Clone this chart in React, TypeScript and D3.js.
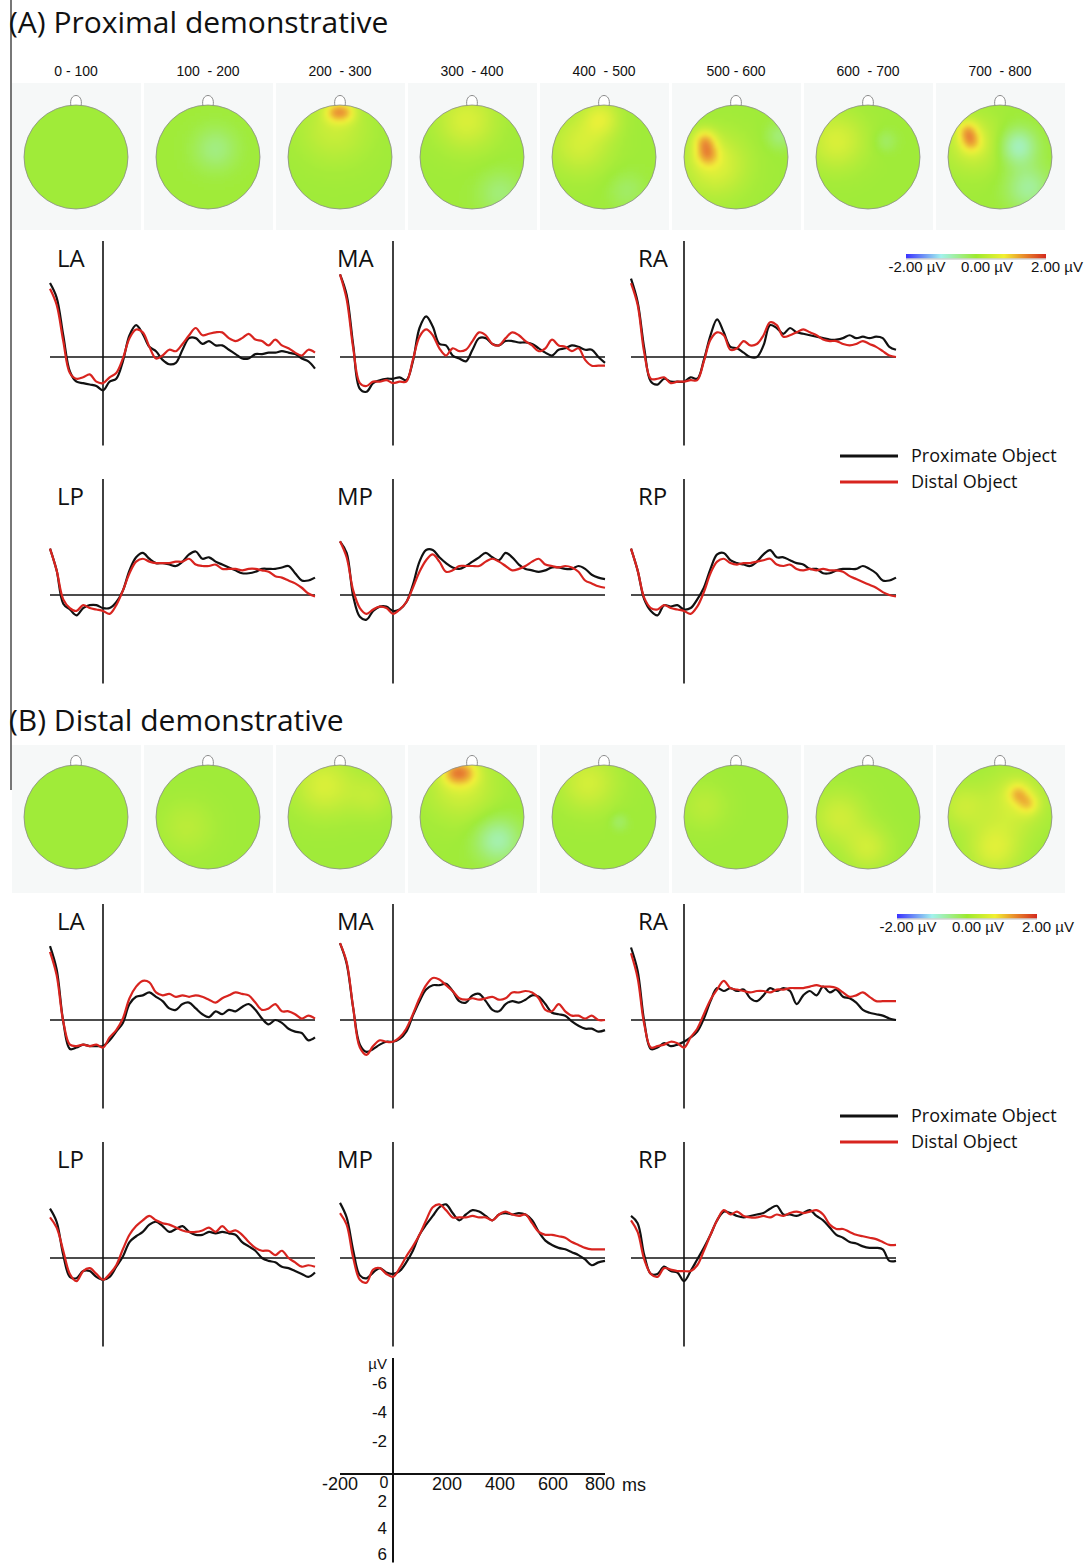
import React, { useEffect, useRef } from 'react';
import * as d3 from 'd3';

// sample times (ms) shared by every waveform
const times = d3.range(-200, 801, 25);

const windowLabels = ['0 - 100', '100  - 200', '200  - 300', '300  - 400', '400  - 500', '500 - 600', '600  - 700', '700  - 800'];
const channels = ['LA', 'MA', 'RA', 'LP', 'MP', 'RP'];
const xTicks = [200, 400, 600, 800];
const yTicks = [-6, -4, -2, 2, 4, 6];
const barTicks = [-2, 0, 2];

// (A) Proximal demonstrative, µV (negative plotted up)
const A_LA_prox = [-5.1, -4.1, -1.5, 1.0, 1.7, 1.8, 1.9, 2.0, 2.3, 1.7, 1.5, 0.3, -1.5, -2.2, -1.6, -0.7, -0.4, 0.2, 0.5, 0.4, -0.5, -1.3, -1.3, -0.9, -1.1, -0.8, -0.8, -0.5, -0.2, 0.1, 0.1, -0.2, -0.2, -0.3, -0.3, -0.4, -0.3, -0.2, 0.1, 0.3, 0.8];
const A_LA_dist = [-4.7, -3.6, -1.1, 1.1, 1.5, 1.4, 1.2, 1.7, 1.8, 1.4, 1.1, 0.1, -1.3, -1.9, -1.7, -0.7, 0.1, -0.1, -0.5, -0.4, -0.9, -1.5, -2.0, -1.5, -1.6, -1.7, -1.7, -1.3, -1.1, -1.3, -1.6, -1.2, -1.1, -0.8, -1.2, -0.8, -0.6, -0.3, -0.1, -0.5, -0.3];
const A_MA_prox = [-5.7, -4.3, -0.8, 2.2, 2.4, 1.8, 1.6, 1.5, 1.5, 1.4, 1.6, 0.3, -2.0, -2.8, -2.1, -0.9, -0.8, -0.1, 0.1, 0.3, -0.5, -1.3, -1.3, -0.9, -0.8, -1.1, -1.1, -1.0, -1.0, -0.9, -0.6, -0.3, -0.1, -0.5, -0.6, -0.8, -0.7, -0.5, -0.5, 0.0, 0.4];
const A_MA_dist = [-5.7, -4.0, -0.6, 1.8, 2.0, 1.7, 1.7, 1.6, 1.8, 1.7, 1.7, 0.2, -1.4, -1.9, -1.5, -0.6, -0.1, -0.6, -0.4, -0.5, -1.1, -1.7, -1.5, -0.9, -0.8, -1.3, -1.7, -1.5, -1.1, -0.8, -0.4, -0.6, -1.2, -0.8, -0.7, -0.4, -0.6, 0.2, 0.6, 0.6, 0.6];
const A_RA_prox = [-5.4, -3.8, -0.6, 1.7, 1.9, 1.5, 1.7, 1.7, 1.7, 1.4, 1.5, 0.2, -1.5, -2.6, -1.7, -0.7, -0.6, -0.3, 0.0, 0.0, -0.8, -2.2, -2.0, -1.6, -2.0, -1.7, -1.6, -1.5, -1.4, -1.3, -1.2, -1.2, -1.3, -1.5, -1.3, -1.4, -1.3, -1.4, -1.3, -0.7, -0.5];
const A_RA_dist = [-5.1, -3.6, -0.3, 1.5, 1.5, 1.4, 1.8, 1.7, 1.7, 1.6, 1.6, 0.3, -1.2, -1.7, -1.5, -0.5, -0.6, -1.1, -0.8, -0.9, -1.5, -2.4, -2.2, -1.4, -1.5, -1.7, -1.9, -1.7, -1.5, -1.2, -1.1, -1.1, -0.9, -0.8, -0.9, -1.1, -0.9, -0.7, -0.4, -0.1, 0.0];
const A_LP_prox = [-3.2, -1.7, 0.6, 1.0, 1.4, 0.9, 0.7, 0.7, 0.9, 0.9, 0.5, -0.3, -1.7, -2.6, -2.9, -2.5, -2.2, -2.2, -2.1, -2.0, -2.3, -2.8, -3.0, -2.5, -2.6, -2.3, -2.1, -1.9, -1.7, -1.5, -1.5, -1.6, -1.8, -1.8, -1.8, -1.9, -2.0, -1.5, -1.0, -1.0, -1.2];
const A_LP_dist = [-3.2, -1.7, 0.3, 0.9, 1.1, 0.7, 0.9, 1.0, 1.1, 1.3, 0.7, -0.3, -1.5, -2.3, -2.5, -2.3, -2.2, -2.2, -2.2, -2.3, -2.3, -2.5, -2.1, -2.0, -2.0, -2.1, -1.8, -1.8, -1.8, -1.7, -1.8, -1.8, -1.7, -1.6, -1.3, -1.2, -1.0, -0.8, -0.5, -0.1, 0.1];
const A_MP_prox = [-3.7, -2.9, 0.1, 1.5, 1.7, 1.1, 0.8, 0.8, 1.1, 1.0, 0.5, -0.7, -2.3, -3.1, -3.1, -2.6, -2.2, -1.9, -1.8, -2.0, -2.3, -2.6, -2.9, -2.6, -2.4, -2.9, -2.6, -2.1, -1.8, -1.7, -1.6, -1.7, -1.9, -1.9, -1.8, -1.8, -2.0, -1.8, -1.4, -1.2, -1.1];
const A_MP_dist = [-3.7, -2.6, -0.3, 0.9, 1.3, 1.0, 0.8, 0.9, 1.3, 1.0, 0.5, -0.5, -1.6, -2.4, -2.8, -2.3, -1.6, -1.7, -2.0, -2.0, -2.0, -2.0, -2.3, -2.5, -2.3, -2.0, -1.7, -1.8, -2.0, -2.3, -2.5, -2.1, -2.0, -1.9, -2.0, -1.9, -1.6, -1.0, -0.8, -0.6, -0.5];
const A_RP_prox = [-3.2, -1.7, 0.3, 1.1, 1.4, 0.7, 0.8, 0.7, 1.0, 0.9, 0.3, -0.5, -1.8, -2.8, -2.9, -2.4, -2.2, -2.1, -2.0, -2.3, -2.8, -3.1, -2.6, -2.6, -2.4, -2.2, -2.1, -1.8, -1.8, -1.5, -1.5, -1.7, -1.8, -1.8, -1.8, -2.0, -1.8, -1.5, -1.0, -1.0, -1.2];
const A_RP_dist = [-3.2, -1.7, 0.2, 0.9, 1.0, 0.7, 0.9, 1.0, 1.1, 1.3, 0.8, -0.2, -1.5, -2.3, -2.5, -2.2, -2.1, -2.2, -2.2, -2.3, -2.4, -2.5, -2.1, -2.0, -2.1, -1.8, -1.7, -1.8, -1.7, -1.8, -1.7, -1.7, -1.6, -1.3, -1.1, -0.9, -0.7, -0.5, -0.2, 0.0, 0.1];

// (B) Distal demonstrative
const B_LA_prox = [-5.1, -3.5, 0.1, 2.0, 1.9, 1.7, 1.8, 1.8, 1.8, 1.4, 0.8, 0.2, -1.1, -1.6, -1.7, -1.9, -1.6, -1.3, -0.8, -0.7, -1.1, -1.2, -0.8, -0.4, -0.2, -0.6, -0.4, -0.7, -0.6, -0.9, -1.1, -0.7, -0.1, 0.3, 0.0, 0.2, 0.6, 0.8, 0.9, 1.4, 1.2];
const B_LA_dist = [-4.7, -3.1, 0.1, 1.7, 1.8, 1.7, 1.8, 1.7, 1.9, 1.2, 0.7, -0.1, -1.5, -2.3, -2.7, -2.6, -1.9, -1.7, -1.8, -1.6, -1.7, -1.6, -1.7, -1.6, -1.4, -1.2, -1.5, -1.7, -1.9, -1.8, -1.7, -1.2, -0.7, -0.8, -1.1, -0.6, -0.6, -0.4, -0.1, -0.3, -0.1];
const B_MA_prox = [-5.3, -3.9, -0.8, 1.7, 2.2, 2.0, 1.7, 1.5, 1.5, 1.3, 0.8, -0.3, -1.3, -2.1, -2.4, -2.4, -2.5, -2.0, -1.3, -1.2, -1.7, -1.8, -1.3, -0.7, -0.6, -1.1, -1.3, -1.2, -1.4, -1.7, -1.6, -1.1, -0.5, -0.4, -0.3, 0.1, 0.4, 0.6, 0.6, 0.8, 0.7];
const B_MA_dist = [-5.3, -4.0, -0.8, 1.9, 2.4, 1.8, 1.4, 1.5, 1.5, 1.2, 0.6, -0.4, -1.5, -2.4, -2.9, -2.8, -2.4, -2.0, -1.5, -1.4, -1.5, -1.4, -1.5, -1.6, -1.4, -1.5, -1.9, -1.9, -2.0, -1.9, -1.5, -0.7, -0.6, -1.1, -0.6, -0.3, -0.3, -0.1, -0.3, 0.0, 0.0];
const B_RA_prox = [-5.0, -3.4, 0.1, 2.0, 1.9, 1.6, 1.8, 1.7, 1.5, 1.2, 0.8, -0.1, -1.3, -2.2, -2.0, -2.2, -2.0, -2.1, -1.5, -1.3, -1.7, -2.2, -2.0, -2.2, -2.0, -1.1, -1.7, -2.0, -1.7, -2.3, -1.9, -2.1, -1.6, -1.5, -1.2, -0.7, -0.5, -0.4, -0.3, -0.1, 0.0];
const B_RA_dist = [-4.6, -2.9, 0.3, 1.9, 1.8, 1.7, 1.5, 1.6, 1.9, 1.2, 0.6, -0.4, -1.4, -2.1, -2.7, -2.2, -2.1, -2.0, -1.9, -2.0, -2.0, -1.9, -2.1, -2.1, -2.2, -2.2, -2.2, -2.3, -2.4, -2.3, -2.3, -2.2, -1.9, -1.6, -1.7, -1.9, -1.6, -1.3, -1.3, -1.3, -1.3];
const B_LP_prox = [-3.4, -2.5, -0.2, 1.3, 1.4, 0.9, 0.9, 1.3, 1.5, 1.3, 0.6, -0.1, -1.1, -1.5, -1.8, -2.3, -2.5, -2.2, -1.8, -2.0, -2.2, -1.8, -1.6, -1.6, -1.8, -1.7, -1.8, -1.7, -1.6, -1.1, -0.8, -0.5, 0.0, 0.2, 0.3, 0.6, 0.7, 0.9, 1.1, 1.3, 1.0];
const B_LP_dist = [-2.8, -2.1, -0.5, 1.1, 1.6, 0.9, 0.7, 1.1, 1.5, 1.1, 0.5, -0.6, -1.6, -2.2, -2.6, -2.9, -2.6, -2.4, -2.3, -2.1, -1.9, -1.8, -1.8, -1.9, -2.1, -1.8, -2.2, -1.8, -1.9, -1.6, -1.1, -0.7, -0.5, -0.5, -0.2, -0.5, 0.0, 0.3, 0.6, 0.5, 0.6];
const B_MP_prox = [-3.8, -2.8, -0.5, 1.2, 1.4, 1.0, 0.7, 1.0, 1.1, 0.9, 0.3, -0.5, -1.6, -2.3, -2.9, -3.5, -3.7, -3.1, -2.6, -3.0, -3.3, -3.2, -2.9, -2.6, -3.0, -3.1, -3.0, -3.1, -3.0, -2.6, -1.8, -1.2, -0.9, -0.7, -0.6, -0.4, -0.2, 0.1, 0.5, 0.3, 0.2];
const B_MP_dist = [-3.1, -2.3, 0.0, 1.5, 1.7, 0.8, 0.7, 1.1, 1.3, 0.7, -0.1, -0.8, -1.6, -2.6, -3.5, -3.7, -3.3, -2.8, -2.8, -2.8, -2.9, -2.8, -2.8, -2.6, -3.0, -3.2, -3.0, -2.9, -3.0, -2.4, -1.8, -1.6, -1.6, -1.5, -1.4, -1.1, -0.9, -0.7, -0.6, -0.6, -0.6];
const B_RP_prox = [-2.9, -2.4, -0.2, 1.1, 1.1, 0.6, 0.9, 1.0, 1.6, 0.9, 0.1, -0.7, -1.6, -2.6, -3.2, -3.1, -2.9, -2.8, -2.9, -3.0, -3.1, -3.4, -3.6, -3.0, -3.0, -2.9, -3.1, -3.3, -2.9, -2.6, -2.1, -1.6, -1.4, -1.1, -1.0, -0.8, -0.7, -0.7, -0.6, 0.2, 0.2];
const B_RP_dist = [-2.6, -1.8, 0.1, 1.1, 1.3, 0.7, 0.8, 0.9, 0.9, 0.9, 0.5, -0.5, -1.6, -2.6, -3.3, -3.0, -3.2, -2.9, -2.8, -2.8, -2.9, -2.8, -3.0, -2.9, -3.1, -3.2, -3.1, -3.2, -3.3, -3.0, -2.3, -2.0, -2.0, -1.8, -1.6, -1.5, -1.4, -1.3, -1.1, -0.9, -0.9];

// topographic maps: hotspots [x, y, spread, µV] in head coords (-1..1, y down)
const mapsA = [
  [],
  [[0.15, -0.15, 0.3, -0.4]],
  [[-0.1, -0.86, 0.14, 0.75], [0.12, -0.86, 0.14, 0.7], [-0.1, -0.55, 0.45, 0.4]],
  [[-0.1, -0.7, 0.4, 0.55], [0.55, 0.7, 0.3, -0.35]],
  [[-0.45, -0.25, 0.4, 0.5], [-0.05, -0.75, 0.25, 0.55], [0.45, 0.65, 0.25, -0.25]],
  [[-0.6, -0.32, 0.15, 0.8], [-0.55, -0.05, 0.16, 0.8], [-0.4, 0.15, 0.42, 0.6], [0.85, -0.4, 0.18, -0.35]],
  [[-0.6, -0.3, 0.38, 0.55], [0.35, -0.3, 0.15, -0.25]],
  [[-0.62, -0.5, 0.14, 0.75], [-0.55, -0.28, 0.14, 0.65], [-0.5, -0.25, 0.38, 0.5], [0.35, -0.2, 0.25, -0.75], [0.55, 0.6, 0.3, -0.55]],
];
const mapsB = [
  [],
  [[-0.4, 0.2, 0.35, 0.25]],
  [[-0.3, -0.6, 0.4, 0.55], [0.6, -0.4, 0.3, 0.3]],
  [[-0.35, -0.85, 0.17, 0.8], [-0.1, -0.85, 0.17, 0.65], [-0.2, -0.6, 0.45, 0.5], [0.5, 0.45, 0.3, -0.65]],
  [[-0.3, -0.65, 0.38, 0.5], [0.3, 0.1, 0.12, -0.25]],
  [[-0.6, -0.2, 0.3, 0.25]],
  [[-0.55, 0.0, 0.35, 0.45], [0.0, 0.6, 0.3, 0.45]],
  [[0.35, -0.45, 0.14, 0.65], [0.55, -0.25, 0.14, 0.6], [0.3, -0.3, 0.42, 0.5], [-0.1, 0.6, 0.35, 0.6], [-0.7, -0.2, 0.3, 0.4]],
];

const sections = [
  {
    title: '(A) Proximal demonstrative', titleY: 33, showWindows: true, mapTop: 83, mapBottom: 230, mapCy: 157,
    rows: [357, 595], barX: 906, barY: 254, legendY: 456, maps: mapsA,
    series: [[A_LA_prox, A_LA_dist], [A_MA_prox, A_MA_dist], [A_RA_prox, A_RA_dist], [A_LP_prox, A_LP_dist], [A_MP_prox, A_MP_dist], [A_RP_prox, A_RP_dist]],
  },
  {
    title: '(B) Distal demonstrative', titleY: 731, showWindows: false, mapTop: 745, mapBottom: 893, mapCy: 817,
    rows: [1020, 1258], barX: 897, barY: 914, legendY: 1116, maps: mapsB,
    series: [[B_LA_prox, B_LA_dist], [B_MA_prox, B_MA_dist], [B_RA_prox, B_RA_dist], [B_LP_prox, B_LP_dist], [B_MP_prox, B_MP_dist], [B_RP_prox, B_RP_dist]],
  },
];

const W = 1089;
const H = 1563;
const colX = [103, 393, 684];
const labelX = [57, 337, 638];
const scaleOrigin = [393, 1474];
const humanist = '"Open Sans", "Noto Sans", sans-serif';
const arial = '"Liberation Sans", Arial, sans-serif';
const BLACK = '#111';
const RED = '#d8241f';

const color = d3.scaleLinear<string>()
  .domain([-2, -1, 0, 0.8, 1.4, 2])
  .range(['#3a32ff', '#a2f2ee', '#9cea2e', '#f2f030', '#e8862a', '#d42a1e'])
  .clamp(true);

function field(blobs: number[][], x: number, y: number) {
  let s = 0;
  for (const [cx, cy, r, v] of blobs) {
    const d2 = (x - cx) ** 2 + (y - cy) ** 2;
    s += v * Math.exp(-d2 / (2 * r * r));
  }
  return s;
}

const App = () => {
  const svgRef = useRef<SVGSVGElement>(null);

  useEffect(() => {
    document.body.style.margin = '0';
    const svg = d3.select(svgRef.current).attr('width', W).attr('height', H);
    svg.selectAll('*').remove();
    svg.append('rect').attr('width', W).attr('height', H).attr('fill', '#fff');

    const defs = svg.append('defs');
    defs.append('filter').attr('id', 'soft')
      .append('feGaussianBlur').attr('stdDeviation', 1.6);
    const grad = defs.append('linearGradient').attr('id', 'bar');
    color.domain().forEach((d) => {
      grad.append('stop').attr('offset', `${((d + 2) / 4) * 100}%`).attr('stop-color', color(d));
    });
    defs.append('clipPath').attr('id', 'head').append('circle').attr('r', 52);

    // left frame line
    svg.append('line').attr('x1', 11).attr('x2', 11).attr('y1', 0).attr('y2', 790)
      .attr('stroke', '#777').attr('stroke-width', 2);

    // panel scales, relative to each panel origin
    const xs = d3.scaleLinear().domain([-200, 800]).range([-53, 212]);
    const ys = d3.scaleLinear().domain([-8, 6]).range([-116, 87]);
    const line = d3.line<number>()
      .x((_, i) => xs(times[i]))
      .y((v) => ys(v))
      .curve(d3.curveCatmullRom.alpha(0.5));

    const R = 52;
    const step = 3;
    const grid: number[][] = [];
    for (let gx = -R - 3; gx <= R + 3; gx += step) {
      for (let gy = -R - 3; gy <= R + 3; gy += step) {
        if (gx * gx + gy * gy <= (R + 5) * (R + 5)) grid.push([gx, gy]);
      }
    }

    sections.forEach((sec) => {
      svg.append('text').attr('x', 9).attr('y', sec.titleY)
        .attr('font-family', humanist).attr('font-size', 30).attr('fill', '#111')
        .text(sec.title);

      // topographic maps
      sec.maps.forEach((blobs, i) => {
        const cx = 76 + 132 * i;
        svg.append('rect').attr('x', cx - 64).attr('y', sec.mapTop)
          .attr('width', 129).attr('height', sec.mapBottom - sec.mapTop).attr('fill', '#f6f8f8');
        if (sec.showWindows) {
          svg.append('text').attr('x', cx).attr('y', 76).attr('text-anchor', 'middle')
            .attr('font-family', arial).attr('font-size', 14).attr('fill', '#111')
            .style('white-space', 'pre').text(windowLabels[i]);
        }
        const g = svg.append('g').attr('transform', `translate(${cx},${sec.mapCy})`);
        g.append('path').attr('d', `M-5,${-R + 1} C-8,${-R - 13} 8,${-R - 13} 5,${-R + 1}`)
          .attr('fill', '#fff').attr('stroke', '#8a8a8a').attr('stroke-width', 1);
        const clip = g.append('g').attr('clip-path', 'url(#head)');
        clip.append('g').attr('filter', 'url(#soft)')
          .selectAll('rect').data(grid).join('rect')
          .attr('x', (d) => d[0] - step / 2 - 0.2).attr('y', (d) => d[1] - step / 2 - 0.2)
          .attr('width', step + 0.4).attr('height', step + 0.4)
          .attr('fill', (d) => color(field(blobs, d[0] / R, d[1] / R)));
        g.append('circle').attr('r', R).attr('fill', 'none')
          .attr('stroke', '#8a8a8a').attr('stroke-width', 0.8);
      });

      // colour bar
      const bar = d3.scaleLinear().domain([-2, 2]).range([sec.barX, sec.barX + 140]);
      svg.append('rect').attr('x', bar(-2)).attr('y', sec.barY).attr('width', 140).attr('height', 4.5)
        .attr('fill', 'url(#bar)');
      svg.append('line').attr('x1', bar(-2)).attr('x2', bar(2)).attr('y1', sec.barY + 5).attr('y2', sec.barY + 5)
        .attr('stroke', '#bbb').attr('stroke-width', 1);
      barTicks.forEach((t) => {
        svg.append('text').attr('x', bar(t) + 11).attr('y', sec.barY + 18)
          .attr('text-anchor', 'middle').attr('font-family', arial).attr('font-size', 15).attr('fill', '#111')
          .text(`${t.toFixed(2)} µV`);
      });

      // legend
      [['Proximate Object', BLACK], ['Distal Object', RED]].forEach(([name, c], k) => {
        const ly = sec.legendY + k * 26;
        svg.append('line').attr('x1', 840).attr('x2', 898).attr('y1', ly).attr('y2', ly)
          .attr('stroke', c).attr('stroke-width', 3);
        svg.append('text').attr('x', 911).attr('y', ly).attr('dy', '0.35em')
          .attr('font-family', humanist).attr('font-size', 18).attr('fill', '#111').text(name);
      });

      // ERP panels
      channels.forEach((ch, k) => {
        const ox = colX[k % 3];
        const oy = sec.rows[Math.floor(k / 3)];
        const g = svg.append('g').attr('transform', `translate(${ox},${oy})`);
        g.append('line').attr('x1', 0).attr('x2', 0).attr('y1', ys(-8)).attr('y2', ys(6.1))
          .attr('stroke', BLACK).attr('stroke-width', 1.6);
        g.append('line').attr('x1', xs(-200)).attr('x2', xs(800)).attr('y1', 0).attr('y2', 0)
          .attr('stroke', BLACK).attr('stroke-width', 1.6);
        svg.append('text').attr('x', labelX[k % 3]).attr('y', oy - 90)
          .attr('font-family', humanist).attr('font-size', 24).attr('fill', '#111').text(ch);
        const [prox, dist] = sec.series[k];
        g.append('path').attr('d', line(prox)).attr('fill', 'none').attr('stroke', BLACK).attr('stroke-width', 2.2);
        g.append('path').attr('d', line(dist)).attr('fill', 'none').attr('stroke', RED).attr('stroke-width', 2.2);
      });
    });

    // calibration axes
    const s = svg.append('g').attr('transform', `translate(${scaleOrigin[0]},${scaleOrigin[1]})`);
    s.append('line').attr('x1', 0).attr('x2', 0).attr('y1', ys(-8)).attr('y2', ys(6.1))
      .attr('stroke', BLACK).attr('stroke-width', 2);
    s.append('line').attr('x1', xs(-200)).attr('x2', xs(800)).attr('y1', 0).attr('y2', 0)
      .attr('stroke', BLACK).attr('stroke-width', 2);
    const lab = (x: number, y: number, t: string, anchor = 'middle', size = 18) =>
      s.append('text').attr('x', x).attr('y', y).attr('dy', '0.35em').attr('text-anchor', anchor)
        .attr('font-family', arial).attr('font-size', size).attr('fill', '#111').text(t);
    lab(-6, ys(-7.6), 'µV', 'end', 15);
    yTicks.forEach((v) => lab(-6, ys(v) - (v === 6 ? 7 : v === 2 ? 2 : 4), String(v), 'end', 17));
    lab(xs(-200), 10, '-200');
    lab(-9, 8, '0', 'middle', 16);
    xTicks.forEach((t) => lab(xs(t) + (t === 800 ? -5 : 1), 10, String(t)));
    lab(xs(800) + 17, 11, 'ms', 'start');
  }, []);

  return <svg ref={svgRef} style={{ display: 'block' }} />;
};

export default App;
